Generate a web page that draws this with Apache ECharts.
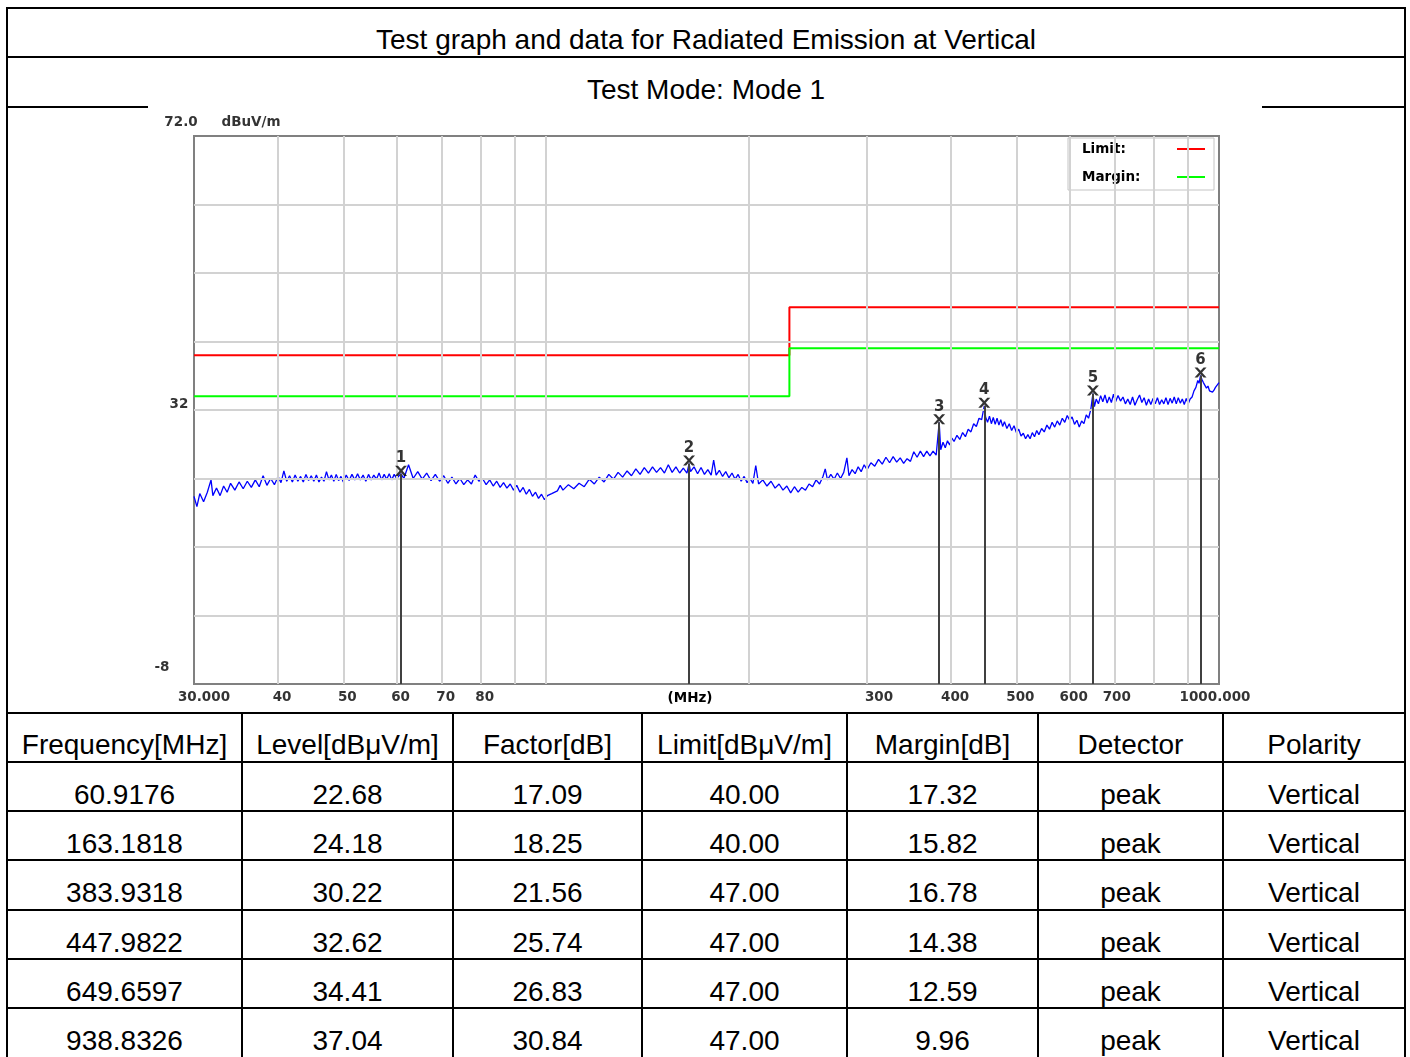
<!DOCTYPE html>
<html><head><meta charset="utf-8">
<script src="https://cdn.jsdelivr.net/npm/echarts@6/dist/echarts.min.js"></script>
<style>
html,body{margin:0;padding:0;background:#fff;width:1410px;height:1057px;overflow:hidden;}
.ln{position:absolute;background:#000;}
.tx{position:absolute;font-family:"Liberation Sans",Arial,sans-serif;font-size:28px;line-height:28px;height:28px;text-align:center;color:#000;white-space:nowrap;}
#chart{position:absolute;left:0;top:0;width:1410px;height:1057px;}
</style></head><body>
<div id="frame"></div>
<div id="chart"></div>
<script>
// ---------------- DATA ----------------
const titleText = 'Test graph and data for Radiated Emission at Vertical';
const modeText = 'Test Mode: Mode 1';
const yUnit = 'dBuV/m';
const xUnit = '(MHz)';

const xGrid = [40, 50, 60, 70, 80, 90, 100, 200, 300, 400, 500, 600, 700, 800, 900];
const yGrid = [2, 12, 22, 32, 42, 52, 62];
const xLabelFreq = [30, 40, 50, 60, 70, 80, 300, 400, 500, 600, 700, 1000];
const xLabelText = ['30.000', '40', '50', '60', '70', '80', '300', '400', '500', '600', '700', '1000.000'];
const yLabelVal = [72, 32, -8];
const yLabelText = ['72.0', '32', '-8'];

const limitLine = [[30, 40], [230, 40], [230, 47], [1000, 47]];
const marginLine = [[30, 34], [230, 34], [230, 41], [1000, 41]];

const trace = [
[30.0,19.4],[30.3,17.9],[30.6,19.8],[31.0,18.6],[31.4,20.0],[31.8,21.8],[32.0,19.5],[32.4,20.6],[32.8,19.5],[33.2,20.9],[33.6,20.0],[34.0,21.3],[34.5,20.3],[35.0,21.5],[35.5,20.5],[36.0,21.6],[36.5,20.7],[37.0,21.8],[37.5,20.8],[38.0,22.4],[38.5,21.0],[39.0,22.0],[39.5,21.1],[40.0,22.3],
[40.4,21.4],[40.8,23.1],[41.2,21.6],[41.6,22.4],[42.0,21.5],[42.4,22.5],[42.8,21.6],[43.2,22.3],[43.6,21.5],[44.0,22.6],[44.4,21.7],[44.8,22.4],[45.2,21.6],[45.6,22.5],[46.0,21.5],[46.4,22.2],[46.8,21.6],[47.2,23.0],[47.6,21.8],[48.0,22.5],[48.4,21.6],[48.8,22.6],[49.2,21.7],[49.6,22.3],[50.0,21.5],[50.5,22.5],[51.0,21.7],[51.5,22.6],[52.0,21.8],[52.5,22.7],[53.0,21.8],[53.5,22.5],[54.0,21.6],[54.5,22.6],[55.0,21.8],[55.5,22.5],[56.0,21.9],[56.5,22.8],[57.0,21.8],[57.5,22.6],[58.0,21.9],[58.5,22.7],[59.0,21.8],[59.5,22.6],[60.0,22.0],[60.5,22.4],[60.9176,22.68],
[61.5,22.0],[62.5,24.0],[63.5,22.0],[64.5,23.0],[65.5,21.9],[66.5,22.8],[67.5,21.7],[68.5,22.6],[69.5,21.6],[70.5,22.4],[71.5,21.3],[72.5,22.2],[73.5,21.2],[74.5,22.0],[75.5,21.1],[76.5,21.8],[77.5,21.2],[78.5,22.5],[79.5,21.6],[80.5,22.0],[81.5,21.1],[82.5,21.8],[83.5,20.9],[84.5,21.6],[85.5,20.7],[86.5,21.4],[87.5,20.6],[88.5,21.2],[89.5,20.3],[90.5,21.0],[91.5,20.0],[92.5,20.7],[93.5,19.7],[94.5,20.4],[95.5,19.4],[96.5,20.0],[97.5,19.1],[98.5,19.7],[99.5,18.9],[100.5,19.5],
[102,19.8],[104,20.2],[105,21.0],[106,20.3],[108,21.1],[110,20.5],[112,21.3],[114,20.8],[116,21.9],[118,21.2],[120,22.2],[122,21.5],[124,22.6],[126,21.9],[128,22.9],[130,22.2],[132,23.1],[134,22.4],[136,23.4],[138,22.6],[140,23.6],[142,22.8],[144,23.7],[146,22.9],[148,23.6],[150,22.8],[152,24.0],[154,22.9],[156,23.7],[158,22.8],[160,23.5],[162,22.8],[163.1818,24.18],[164,23.0],[166,23.7],[168,22.7],[170,23.6],[172,22.6],[174,23.3],[176,22.5],[177.5,24.7],[179,22.5],[181,23.2],[183,22.3],[185,23.0],[187,22.1],[189,22.8],[191,21.9],[193,22.6],[195,21.6],[197,22.3],[199,21.4],
[201,22.0],[203,21.3],[205,23.9],[207,21.2],[210,21.8],[213,20.9],[216,21.6],[219,20.6],[222,21.2],[225,20.3],[228,20.9],[231,19.9],[234,20.8],[237,20.0],[240,20.7],[243,20.3],[246,21.2],[249,20.8],[252,21.8],[255,21.2],[258,22.3],[260,23.4],[262,21.8],[265,22.6],[268,21.9],[271,22.8],[274,22.0],[277,22.9],[280,25.0],[282,22.4],[285,23.3],[288,22.7],[291,23.7],[294,23.0],[297,24.0],[300,23.3],[304,24.3],[308,23.8],[312,24.8],[316,24.1],[320,25.1],[324,24.3],[328,25.2],[332,24.4],[336,25.0],[340,24.2],[344,24.9],[348,24.5],[352,25.9],[356,25.1],[360,26.0],[364,25.2],[368,26.0],[372,25.3],[376,26.0],[380,25.4],[383.9318,30.22],[386,26.2],[389,27.3],[392,26.5],[395,27.5],[398,26.9],[401,27.9],
[404,27.4],[408,28.3],[412,27.7],[416,28.7],[420,28.1],[424,29.2],[428,28.8],[432,30.0],[436,29.6],[440,30.8],[444,30.6],[447.9822,32.62],[450,31.0],[453,30.2],[456,31.1],[459,30.0],[462,30.9],[465,29.9],[468,30.8],[471,29.8],[474,30.6],[477,29.6],[480,30.3],[484,29.3],[488,30.0],[492,29.0],[496,29.7],[500,28.7],[504,29.2],[508,28.2],[512,28.6],[516,27.8],[520,28.4],[524,27.8],[528,28.7],[532,28.1],[536,29.0],[540,28.4],[545,29.3],[550,28.8],[555,29.8],[560,29.2],[565,30.2],[570,29.5],[575,30.4],[580,29.8],[585,30.8],[590,30.2],[595,31.2],[600,30.5],[605,31.0],[610,29.9],[615,30.5],[620,29.5],[625,30.4],[630,30.0],[635,31.3],[640,30.8],[645,32.1],[649.6597,34.41],
[653,32.5],[657,33.6],[662,32.9],[667,34.1],[672,33.2],[677,34.2],[682,33.0],[687,33.9],[692,33.1],[697,34.3],[702,33.2],[708,34.1],[714,33.3],[720,33.9],[726,32.9],[732,33.6],[738,32.8],[744,33.9],[750,32.7],[756,33.5],[762,34.2],[768,33.1],[774,33.8],[780,32.7],[786,33.6],[792,32.8],[798,33.7],[804,32.9],[810,33.8],[816,32.8],[822,33.5],[828,32.9],[834,33.8],[840,32.8],[846,33.7],[852,33.0],[858,33.9],[864,32.9],[870,33.8],[876,33.0],[882,33.6],[888,32.8],[894,33.7],[900,32.9],[906,33.6],[912,33.9],[918,34.8],[924,35.3],[930,36.3],[934,35.9],[938.8326,37.04],[943,36.5],[948,36.0],[953,35.8],[958,35.2],[963,35.5],[968,34.8],[973,35.0],[978,34.6],[983,34.9],[988,35.3],[993,35.6],[1000,36.0]
];

const tableHeaders = ['Frequency[MHz]', 'Level[dBμV/m]', 'Factor[dB]', 'Limit[dBμV/m]', 'Margin[dB]', 'Detector', 'Polarity'];
const markerFreq = [60.9176, 163.1818, 383.9318, 447.9822, 649.6597, 938.8326];
const markerLevel = [22.68, 24.18, 30.22, 32.62, 34.41, 37.04];
const markerFactor = [17.09, 18.25, 21.56, 25.74, 26.83, 30.84];
const markerLimit = [40.00, 40.00, 47.00, 47.00, 47.00, 47.00];
const markerMargin = [17.32, 15.82, 16.78, 14.38, 12.59, 9.96];
const markerDetector = ['peak', 'peak', 'peak', 'peak', 'peak', 'peak'];
const markerPolarity = ['Vertical', 'Vertical', 'Vertical', 'Vertical', 'Vertical', 'Vertical'];

// ---------------- FRAME / TABLE (HTML) ----------------
const frame = document.getElementById('frame');
function line(l, t, w, h) {
  const d = document.createElement('div'); d.className = 'ln';
  d.style.cssText = `left:${l}px;top:${t}px;width:${w}px;height:${h}px`;
  frame.appendChild(d);
}
function text(cx, cy, w, s) {
  const d = document.createElement('div'); d.className = 'tx';
  d.style.left = (cx - w / 2) + 'px'; d.style.top = (cy - 14) + 'px'; d.style.width = w + 'px';
  d.textContent = s; frame.appendChild(d);
}
const colX = [7, 242, 453, 642, 847, 1038, 1223, 1405];
const rowY = [713, 762, 811, 860, 910, 959, 1008, 1057];
line(6, 7, 1400, 2);
line(6, 7, 2, 1050);
line(1404, 7, 2, 1050);
line(6, 56, 1400, 2);
line(6, 106, 142, 2);
line(1262, 106, 144, 2);
for (let i = 0; i < rowY.length - 1; i++) line(6, rowY[i] - 1, 1400, 2);
for (let j = 1; j < colX.length - 1; j++) line(colX[j] - 1, 712, 2, 345);
text(706, 40, 1200, titleText);
text(706, 90, 1200, modeText);
const colCenter = (j) => (colX[j] + colX[j + 1]) / 2;
const colW = (j) => colX[j + 1] - colX[j];
tableHeaders.forEach((h, j) => text(colCenter(j), 745, colW(j), h));
markerFreq.forEach((f, i) => {
  const row = [f.toFixed(4), markerLevel[i].toFixed(2), markerFactor[i].toFixed(2), markerLimit[i].toFixed(2),
               markerMargin[i].toFixed(2), markerDetector[i], markerPolarity[i]];
  const cy = rowY[i + 1] + 33;
  row.forEach((s, j) => text(colCenter(j), cy, colW(j), s));
});

// ---------------- CHART ----------------
const FONT = 'DejaVu Sans';
const smallBold = { fontFamily: FONT, fontWeight: 'bold', fontSize: 13.5, color: '#000' };
const xNudge = { '30.000': 10, '300': 12, '700': 2, '1000.000': -4 };
const yNudge = { '72.0': [-13, -14], '32': [-15, -6], '-8': [-32, -17] };

const labelPoints = [];
xLabelFreq.forEach((f, i) => {
  const t = xLabelText[i];
  labelPoints.push({ value: [f, -8], label: { formatter: t, offset: [t in xNudge ? xNudge[t] : 4, 13] } });
});
yLabelVal.forEach((v, i) => {
  const t = yLabelText[i];
  labelPoints.push({ value: [30, v], label: { formatter: t, offset: yNudge[t] } });
});
labelPoints.push({ value: [30, 72], label: { formatter: yUnit, offset: [57, -14] } });

const xSymbol = 'path://M0,0h3l3,3.6l3,-3.6h3l-4.5,5.5l4.5,5.5h-3l-3,-3.6l-3,3.6h-3l4.5,-5.5z';

// legend text: measure so both names start at the same left edge (text then line icon)
const measureCtx = document.createElement('canvas').getContext('2d');
measureCtx.font = 'bold 13.5px "DejaVu Sans"';
const legendTextBox = 90;
const legendRich = {};
['Limit', 'Margin'].forEach((n, i) => {
  const w = measureCtx.measureText(n + ':').width;
  legendRich['k' + i] = Object.assign({}, smallBold, { padding: [0, Math.max(0, legendTextBox - w), 0, 0] });
});

const chart = echarts.init(document.getElementById('chart'), null, { renderer: 'canvas' });
chart.setOption({
  animation: false,
  backgroundColor: 'transparent',
  grid: { left: 194, top: 136, width: 1025, height: 548, show: true, borderColor: '#808080', borderWidth: 2, backgroundColor: '#fff', outerBoundsMode: 'none', containLabel: false },
  xAxis: {
    type: 'log', logBase: 10, min: 30, max: 1000,
    axisLine: { show: false }, axisTick: { show: false }, axisLabel: { show: false },
    splitLine: { show: false }, minorTick: { show: false }, minorSplitLine: { show: false },
    name: xUnit, nameLocation: 'middle', nameGap: 7,
    nameTextStyle: Object.assign({}, smallBold, { padding: [0, 33, 0, 0], verticalAlign: 'top' })
  },
  yAxis: {
    type: 'value', min: -8, max: 72,
    axisLine: { show: false }, axisTick: { show: false }, axisLabel: { show: false }, splitLine: { show: false }
  },
  legend: {
    data: ['Limit', 'Margin'], orient: 'vertical', left: 1068, top: 138,
    padding: [4, 9, 6, 14], itemGap: 14, itemWidth: 28, itemHeight: 14, align: 'right',
    icon: 'path://M0,0h28v2h-28z', backgroundColor: '#fff', borderColor: '#c4c4c4', borderWidth: 1,
    selectedMode: false,
    formatter: (n) => '{k' + (n === 'Limit' ? 0 : 1) + '|' + n + ':}',
    textStyle: Object.assign({}, smallBold, { rich: legendRich })
  },
  series: [
    {
      name: 'grid', type: 'line', data: [[30, -8]], symbol: 'none', lineStyle: { opacity: 0 }, silent: true, z: 1,
      markLine: {
        silent: true, symbol: ['none', 'none'], animation: false, label: { show: false },
        lineStyle: { color: '#d2d2d2', width: 2, type: 'solid' },
        emphasis: { disabled: true },
        data: xGrid.map(f => [{ coord: [f, -8] }, { coord: [f, 72] }])
          .concat(yGrid.map(v => [{ coord: [30, v] }, { coord: [1000, v] }]))
      }
    },
    { name: 'Limit', type: 'line', data: limitLine, color: '#ff0000', symbol: 'none', lineStyle: { width: 2, color: '#ff0000' }, z: 3, silent: true },
    { name: 'Margin', type: 'line', data: marginLine, color: '#00ff00', symbol: 'none', lineStyle: { width: 2, color: '#00ff00' }, z: 3, silent: true },
    { name: 'Trace', type: 'line', data: trace, color: '#0000ff', symbol: 'none', lineStyle: { width: 1.3, color: '#0000ff' }, z: 4, silent: true },
    {
      name: 'Markers', type: 'scatter', z: 5, silent: true,
      data: markerFreq.map((f, i) => [f, markerLevel[i]]),
      symbol: xSymbol, symbolSize: [12, 11], symbolOffset: [0, -3], symbolKeepAspect: true,
      itemStyle: { color: '#000' },
      label: { show: true, position: 'top', distance: 0, formatter: (p) => String(p.dataIndex + 1), fontFamily: FONT, fontWeight: 'bold', fontSize: 15, color: '#000' },
      markLine: {
        silent: true, symbol: ['none', 'none'], animation: false, label: { show: false },
        lineStyle: { color: '#404040', width: 2, type: 'solid' },
        data: markerFreq.map((f, i) => [{ coord: [f, markerLevel[i]] }, { coord: [f, -8] }])
      }
    },
    {
      name: 'labels', type: 'scatter', z: 6, silent: true, clip: false,
      data: labelPoints, symbolSize: 1, itemStyle: { color: 'rgba(0,0,0,0)' },
      label: Object.assign({ show: true, position: 'inside' }, smallBold)
    }
  ]
});
</script>
</body></html>
